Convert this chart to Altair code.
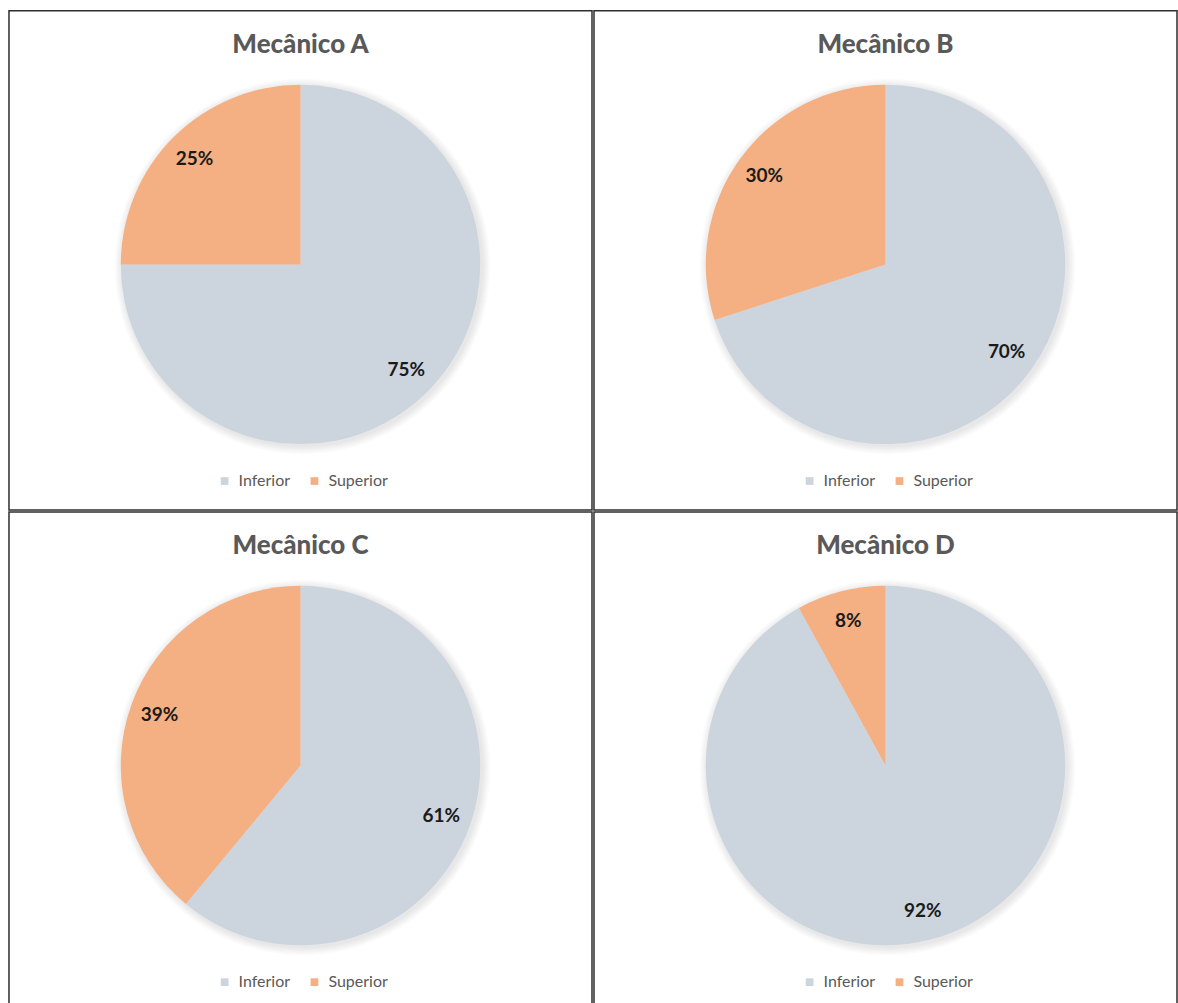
import altair as alt
import pandas as pd

mecanicos = ["Mecânico A", "Mecânico B", "Mecânico C", "Mecânico D"]
categorias = ["Inferior", "Superior"]
inferior = [75, 70, 61, 92]
superior = [25, 30, 39, 8]
cores = ["#CCD4DE", "#F4AF82"]

FONT = "Lato"
W, H = 584, 500
CX, CY = 292, 254
R = 180


def painel(nome, v_inf, v_sup):
    df = pd.DataFrame({
        "categoria": categorias,
        "valor": [v_inf, v_sup],
        "ordem": [0, 1],
        "rotulo": [f"{v_inf}%", f"{v_sup}%"],
    })
    sombras = []
    for k in range(1, 9):
        sombras.append(
            alt.Chart(df).mark_arc(radius=R + k, color="#9a9a9a", opacity=0.03).encode(
                theta=alt.Theta("sum(valor):Q"),
                x=alt.value(CX + 2),
                y=alt.value(CY + 2),
            )
        )
    base = alt.Chart(df).encode(
        theta=alt.Theta("valor:Q", stack=True),
        order=alt.Order("ordem:Q"),
    )
    arc = base.mark_arc(radius=R).encode(
        x=alt.value(CX),
        y=alt.value(CY),
        color=alt.Color(
            "categoria:N",
            scale=alt.Scale(domain=categorias, range=cores),
            legend=alt.Legend(
                orient="none",
                legendX=208,
                legendY=463,
                direction="horizontal",
                title=None,
                symbolType="square",
                symbolSize=60,
                symbolStrokeWidth=0,
                labelFontSize=16,
                labelFont=FONT,
                labelColor="#595959",
                columnPadding=16,
                labelOffset=6,
            ),
        ),
    )
    txt = base.mark_text(
        radius=150, fontSize=19, fontWeight="bold", font=FONT, color="#1a1a1a"
    ).encode(
        x=alt.value(CX),
        y=alt.value(CY),
        text="rotulo:N",
    )
    tdf = pd.DataFrame({"t": [nome]})
    titulo = alt.Chart(tdf).mark_text(
        fontSize=26, fontWeight=900, font=FONT, color="#595959"
    ).encode(text="t:N", x=alt.value(CX), y=alt.value(34))
    return alt.layer(*sombras, arc, txt, titulo).properties(width=W, height=H)


p = [painel(m, a, b) for m, a, b in zip(mecanicos, inferior, superior)]
row1 = alt.hconcat(p[0], p[1], spacing=0).resolve_scale(color="independent").resolve_legend(color="independent")
row2 = alt.hconcat(p[2], p[3], spacing=0).resolve_scale(color="independent").resolve_legend(color="independent")
chart = (
    alt.vconcat(row1, row2, spacing=0)
    .resolve_scale(color="independent")
    .resolve_legend(color="independent")
    .properties(padding={"left": 8, "top": 9, "right": 0, "bottom": 0}, background="white")
    .configure_view(stroke="#2e2e2e", strokeWidth=1.5)
)

chart.save("out.html", embed_options={"renderer": "svg", "actions": False})
